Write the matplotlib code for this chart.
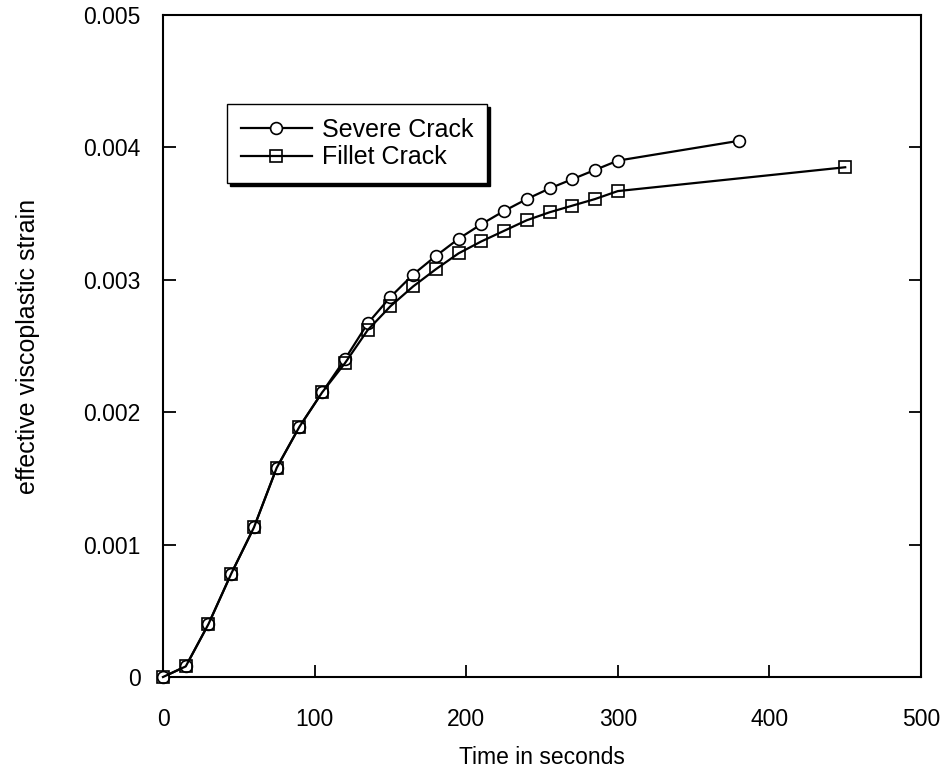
import matplotlib
matplotlib.use("Agg")
import matplotlib.pyplot as plt

plt.rcParams['font.family'] = ['Liberation Sans', 'DejaVu Sans']

# time steps (s)
time_severe = [0, 15, 30, 45, 60, 75, 90, 105, 120, 135, 150, 165, 180, 195,
               210, 225, 240, 255, 270, 285, 300, 380]
time_fillet = [0, 15, 30, 45, 60, 75, 90, 105, 120, 135, 150, 165, 180, 195,
               210, 225, 240, 255, 270, 285, 300, 450]

# effective viscoplastic strain
strain_severe = [0.0, 0.00008, 0.00040, 0.00078, 0.00113, 0.00158, 0.00189,
                 0.00215, 0.00240, 0.00267, 0.00287, 0.00304, 0.00318,
                 0.00331, 0.00342, 0.00352, 0.00361, 0.00369, 0.00376,
                 0.00383, 0.00390, 0.00405]
strain_fillet = [0.0, 0.00008, 0.00040, 0.00078, 0.00113, 0.00158, 0.00189,
                 0.00215, 0.00237, 0.00262, 0.00280, 0.00295, 0.00308,
                 0.00320, 0.00329, 0.00337, 0.00345, 0.00351, 0.00356,
                 0.00361, 0.00367, 0.00385]

series_labels = ["Severe Crack", "Fillet Crack"]

x_ticks = [0, 100, 200, 300, 400, 500]
y_ticks = [0, 0.001, 0.002, 0.003, 0.004, 0.005]
y_tick_labels = ["0", "0.001", "0.002", "0.003", "0.004", "0.005"]

W, H = 948, 775
fig = plt.figure(figsize=(W / 100, H / 100), dpi=100)
ax = fig.add_axes([163 / W, 1 - 677 / H, (921 - 163) / W, (677 - 15) / H])

ax.plot(time_severe, strain_severe, color='black', lw=1.6, marker='o',
        markersize=8.5, markerfacecolor='white', markeredgecolor='black',
        markeredgewidth=1.2, label=series_labels[0], zorder=3, clip_on=False)
ax.plot(time_fillet, strain_fillet, color='black', lw=1.6, marker='s',
        markersize=8.5, markerfacecolor='none', markeredgecolor='black',
        markeredgewidth=1.2, label=series_labels[1], zorder=3, clip_on=False)

ax.set_xlim(0, 500)
ax.set_ylim(0, 0.005)
ax.set_xticks(x_ticks)
ax.set_yticks(y_ticks)
ax.set_yticklabels(y_tick_labels)
ax.tick_params(direction='in', length=9, width=1.3, labelsize=16.5,
               right=True, top=False)
ax.tick_params(axis='x', pad=22)
ax.tick_params(axis='y', pad=16)
for sp in ax.spines.values():
    sp.set_linewidth(1.5)

ax.set_xlabel("Time in seconds", fontsize=16.5)
ax.set_ylabel("effective viscoplastic strain", fontsize=18)
# place axis titles in figure pixel positions
ax.xaxis.set_label_coords(0.5, -(757 - 677) / (677 - 15), transform=ax.transAxes)
ax.xaxis.label.set_va('center')
ax.yaxis.set_label_coords(-(163 - 28) / (921 - 163), 0.5, transform=ax.transAxes)
ax.yaxis.label.set_va('center')

leg = ax.legend(loc='upper left',
                bbox_to_anchor=((227 - 163) / (921 - 163), (677 - 104) / (677 - 15)),
                fontsize=18, handlelength=2.85, handletextpad=0.4,
                frameon=True, fancybox=False,
                shadow={'color': 'black', 'alpha': 1.0}, borderpad=0.55,
                labelspacing=0.15, borderaxespad=0)
leg.get_frame().set_edgecolor('black')
leg.get_frame().set_linewidth(1.0)

fig.savefig("out.png", dpi=100)
